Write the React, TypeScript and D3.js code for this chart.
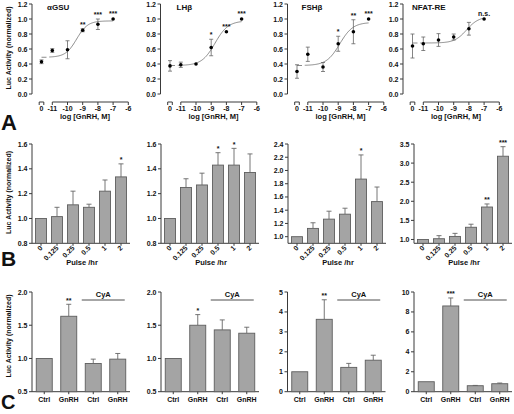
import React from 'react';
import * as d3 from 'd3';

// ---------- Row A: dose-response ----------
const doseTicks = [-11, -10, -9, -8, -7, -6];
const doseLevels = [-11, -10, -9, -8, -7];
const rowATitles = ['αGSU', 'LHβ', 'FSHβ', 'NFAT-RE'];
const rowACtrlMeans = [0.43, 0.375, 0.30, 0.64];
const rowACtrlErrs = [0.025, 0.07, 0.09, 0.16];
const aGSUMeans = [0.58, 0.59, 0.85, 0.93, 1.0];
const aGSUErrs = [0.025, 0.12, 0.02, 0.07, 0.01];
const aGSUSig = ['', '', '**', '***', '***'];
const lhbMeans = [0.39, 0.40, 0.62, 0.83, 1.0];
const lhbErrs = [0.035, 0.01, 0.11, 0.01, 0.01];
const lhbSig = ['', '', '*', '***', '***'];
const fshbMeans = [0.53, 0.36, 0.67, 0.83, 1.0];
const fshbErrs = [0.095, 0.06, 0.10, 0.16, 0.01];
const fshbSig = ['', '', '*', '**', '***'];
const nfatMeans = [0.67, 0.72, 0.76, 0.87, 1.0];
const nfatErrs = [0.09, 0.085, 0.04, 0.085, 0.01];
const nfatSig = ['', '', '', '', 'n.s.'];
// 4-parameter logistic fit: bottom, top, logEC50, hill
const aGSUFit = [0.49, 0.975, -9.4, 1.2];
const lhbFit = [0.38, 0.975, -8.75, 1.0];
const fshbFit = [0.38, 0.955, -8.9, 1.0];
const nfatFit = [0.68, 1.03, -8.15, 1.1];
const rowATicks = [0, 0.2, 0.4, 0.6, 0.8, 1.0, 1.2];

// ---------- Row B: pulse frequency ----------
const pulseLabels = ['0', '0.125', '0.25', '0.5', '1', '2'];
const bAGSUMeans = [1.0, 1.015, 1.11, 1.09, 1.22, 1.335];
const bAGSUErrs = [0, 0.075, 0.11, 0.025, 0.09, 0.105];
const bAGSUSig = ['', '', '', '', '', '*'];
const bLHBMeans = [1.0, 1.25, 1.27, 1.43, 1.43, 1.37];
const bLHBErrs = [0, 0.07, 0.095, 0.10, 0.135, 0.15];
const bLHBSig = ['', '', '', '*', '*', ''];
const bFSHBMeans = [1.0, 1.125, 1.265, 1.34, 1.87, 1.53];
const bFSHBErrs = [0, 0.085, 0.12, 0.09, 0.365, 0.22];
const bFSHBSig = ['', '', '', '', '*', ''];
const bNFATMeans = [1.0, 1.02, 1.08, 1.32, 1.85, 3.18];
const bNFATErrs = [0, 0.08, 0.08, 0.08, 0.08, 0.25];
const bNFATSig = ['', '', '', '', '**', '***'];
const bDomains = [[0.8, 1.6], [0.8, 1.6], [0.9, 2.4], [0.9, 3.5]];
const bTicks = [
  [0.8, 1.0, 1.2, 1.4, 1.6],
  [0.8, 1.0, 1.2, 1.4, 1.6],
  [1.0, 1.2, 1.4, 1.6, 1.8, 2.0, 2.2, 2.4],
  [1.0, 1.5, 2.0, 2.5, 3.0, 3.5],
];

// ---------- Row C: CyA ----------
const cLabels = ['Ctrl', 'GnRH', 'Ctrl', 'GnRH'];
const cAGSUMeans = [1.0, 1.635, 0.925, 0.99];
const cAGSUErrs = [0, 0.18, 0.065, 0.085];
const cAGSUSig = ['', '**', '', ''];
const cLHBMeans = [1.0, 1.5, 1.43, 1.38];
const cLHBErrs = [0, 0.16, 0.15, 0.09];
const cLHBSig = ['', '*', '', ''];
const cFSHBMeans = [1.0, 3.63, 1.22, 1.58];
const cFSHBErrs = [0, 0.98, 0.2, 0.25];
const cFSHBSig = ['', '**', '', ''];
const cNFATMeans = [1.0, 8.6, 0.6, 0.8];
const cNFATErrs = [0, 0.8, 0.03, 0.07];
const cNFATSig = ['', '***', '', ''];
const cDomains = [[0.5, 2.0], [0.5, 2.0], [0, 5], [0, 10]];
const cTicks = [
  [0.5, 1.0, 1.5, 2.0],
  [0.5, 1.0, 1.5, 2.0],
  [0, 1, 2, 3, 4, 5],
  [0, 2, 4, 6, 8, 10],
];
const cyaLabel = 'CyA';

const FONT = "'Liberation Sans', Arial, Helvetica, sans-serif";
const AX = '#3a3a3a';
const BAR_FILL = '#a4a4a4';
const BAR_STROKE = '#5e5e5e';
const ERR = '#666';

function YAxis({ x, scale, ticks, fmt, bottom }: any) {
  const top = scale(ticks[ticks.length - 1]);
  return (
    <g>
      <line x1={x} x2={x} y1={top} y2={bottom} stroke={AX} strokeWidth={1} />
      {ticks.map((t: number, i: number) => (
        <g key={i}>
          <line x1={x - 3} x2={x} y1={scale(t)} y2={scale(t)} stroke={AX} strokeWidth={1} />
          <text x={x - 4.5} y={scale(t) + 2.5} fontSize={7} fontWeight="bold" textAnchor="end">
            {fmt(t)}
          </text>
        </g>
      ))}
    </g>
  );
}

function DosePanel({ ax, ti, titleDx, ctrlMean, ctrlErr, means, errs, sig, fit }: any) {
  const y = d3.scaleLinear().domain([0, 1.2]).range([94, 4]);
  const x = d3.scaleLinear().domain([-11, -6]).range([ax + 20.3, ax + 96.3]);
  const cx = ax + 9.5;
  const f = (v: number) => fit[0] + (fit[1] - fit[0]) / (1 + Math.pow(10, (fit[2] - v) * fit[3]));
  const curve = d3.range(-11.2, -6.995, 0.05).map((v) => [x(v), y(f(v))] as [number, number]);
  const line = d3.line();
  const xAxisY = 102;
  const pts = [{ px: cx, m: ctrlMean, e: ctrlErr, s: '' }].concat(
    doseLevels.map((d, i) => ({ px: x(d), m: means[i], e: errs[i], s: sig[i] }))
  );
  return (
    <g>
      <text x={ax + titleDx} y={10} fontSize={8} fontWeight="bold">{rowATitles[ti]}</text>
      <YAxis x={ax} scale={y} ticks={rowATicks} fmt={d3.format('.1f')} bottom={y(0)} />
      {/* control segment */}
      <line x1={cx - 2.3} x2={cx + 2.3} y1={xAxisY} y2={xAxisY} stroke={AX} />
      <line x1={cx - 2.3} x2={cx - 2.3} y1={xAxisY} y2={xAxisY + 3} stroke={AX} />
      <line x1={cx + 2.3} x2={cx + 2.3} y1={xAxisY} y2={xAxisY + 3} stroke={AX} />
      <text x={cx} y={110.5} fontSize={7} fontWeight="bold" textAnchor="middle">0</text>
      {/* main segment */}
      <line x1={x(-11)} x2={x(-6)} y1={xAxisY} y2={xAxisY} stroke={AX} />
      {doseTicks.map((t) => (
        <g key={t}>
          <line x1={x(t)} x2={x(t)} y1={xAxisY} y2={xAxisY + 3} stroke={AX} />
          <text x={x(t)} y={110.5} fontSize={7} fontWeight="bold" textAnchor="middle">{String(t)}</text>
        </g>
      ))}
      <text x={ax + 53} y={118.5} fontSize={7.5} fontWeight="bold" textAnchor="middle">log [GnRH, M]</text>
      {/* fit curve */}
      <path d={line(curve) || ''} fill="none" stroke="#6e6e6e" strokeWidth={0.8} />
      <line x1={cx} x2={cx + 5} y1={y(fit[0])} y2={y(fit[0])} stroke="#6e6e6e" strokeWidth={0.8} />
      {pts.map((p, i) => (
        <g key={i}>
          {p.e > 0.012 && (
            <g stroke={ERR} strokeWidth={0.8}>
              <line x1={p.px} x2={p.px} y1={y(p.m - p.e)} y2={y(p.m + p.e)} />
              <line x1={p.px - 2} x2={p.px + 2} y1={y(p.m - p.e)} y2={y(p.m - p.e)} />
              <line x1={p.px - 2} x2={p.px + 2} y1={y(p.m + p.e)} y2={y(p.m + p.e)} />
            </g>
          )}
          <circle cx={p.px} cy={y(p.m)} r={1.8} fill="#000" />
          {p.s && (
            <text x={p.px} y={y(p.m + p.e) - 2} fontSize={7} fontWeight="bold" textAnchor="middle">
              {p.s}
            </text>
          )}
        </g>
      ))}
    </g>
  );
}

function BarPanel({ ax, domain, ticks, fmt, cats, means, errs, sig, yTop, yBot, rotate, cya, padIn, padOut, labelY }: any) {
  const y = d3.scaleLinear().domain(domain).range([yBot, yTop]);
  const x = d3.scaleBand().domain(cats.map((_: string, i: number) => String(i))).range([ax, ax + 98]).paddingInner(padIn).paddingOuter(padOut);
  const bw = x.bandwidth();
  return (
    <g>
      <YAxis x={ax} scale={y} ticks={ticks} fmt={fmt} bottom={yBot} />
      <line x1={ax} x2={ax + 98} y1={yBot} y2={yBot} stroke={AX} />
      {cats.map((c: string, i: number) => {
        const bx = x(String(i)) as number;
        const cxm = bx + bw / 2;
        const top = y(means[i]);
        const et = y(means[i] + errs[i]);
        return (
          <g key={i}>
            {errs[i] > 0 && (
              <g stroke={ERR} strokeWidth={0.9}>
                <line x1={cxm} x2={cxm} y1={top} y2={et} />
                <line x1={cxm - 2.5} x2={cxm + 2.5} y1={et} y2={et} />
              </g>
            )}
            <rect x={bx} y={top} width={bw} height={yBot - top} fill={BAR_FILL} stroke={BAR_STROKE} strokeWidth={0.9} />
            <line x1={cxm} x2={cxm} y1={yBot} y2={yBot + 2.5} stroke={AX} />
            {sig[i] && (
              <text x={cxm} y={et - 1.5} fontSize={7} fontWeight="bold" textAnchor="middle">{sig[i]}</text>
            )}
            {rotate ? (
              <text x={cxm + 2} y={labelY} fontSize={7} fontWeight="bold" textAnchor="end" transform={`rotate(-45 ${cxm + 2} ${labelY})`}>
                {c}
              </text>
            ) : (
              <text x={cxm} y={labelY} fontSize={7} fontWeight="bold" textAnchor="middle">{c}</text>
            )}
          </g>
        );
      })}
      {cya && (
        <g>
          <line x1={(x('2') as number) - 3.5} x2={(x('3') as number) + bw - 1} y1={300} y2={300} stroke={AX} strokeWidth={0.9} />
          <text x={((x('2') as number) - 3.5 + (x('3') as number) + bw - 1) / 2} y={296.5} fontSize={7.5} fontWeight="bold" textAnchor="middle">
            {cyaLabel}
          </text>
        </g>
      )}
    </g>
  );
}

export default function App() {
  const rowAX = [32, 160.5, 287.5, 403];
  const titleDx = [15, 16, 14, 9];
  const rowBX = [32, 161, 288, 414];
  const rowCX = [32, 161, 287.5, 414];
  const aData = [
    [aGSUMeans, aGSUErrs, aGSUSig, aGSUFit],
    [lhbMeans, lhbErrs, lhbSig, lhbFit],
    [fshbMeans, fshbErrs, fshbSig, fshbFit],
    [nfatMeans, nfatErrs, nfatSig, nfatFit],
  ];
  const bData = [
    [bAGSUMeans, bAGSUErrs, bAGSUSig],
    [bLHBMeans, bLHBErrs, bLHBSig],
    [bFSHBMeans, bFSHBErrs, bFSHBSig],
    [bNFATMeans, bNFATErrs, bNFATSig],
  ];
  const cData = [
    [cAGSUMeans, cAGSUErrs, cAGSUSig],
    [cLHBMeans, cLHBErrs, cLHBSig],
    [cFSHBMeans, cFSHBErrs, cFSHBSig],
    [cNFATMeans, cNFATErrs, cNFATSig],
  ];
  const f1 = d3.format('.1f');
  const f0 = d3.format('d');
  const yLabel = 'Luc Activity (normalized)';
  return (
    <svg width={514} height={414} style={{ position: 'absolute', left: 0, top: 0, background: '#fff' }} fontFamily={FONT} fill="#111">
      <rect x={0} y={0} width={514} height={414} fill="#fff" />
      {/* Row labels */}
      <text x={1} y={130} fontSize={22} fontWeight="bold">A</text>
      <text x={1} y={266} fontSize={21} fontWeight="bold">B</text>
      <text x={1} y={409} fontSize={20} fontWeight="bold">C</text>
      {[48, 192.5, 336].map((cy, i) => (
        <text key={i} x={0} y={0} fontSize={7} fontWeight="bold" textAnchor="middle" transform={`translate(10.5 ${cy}) rotate(-90)`}>
          {yLabel}
        </text>
      ))}
      {aData.map((d, i) => (
        <DosePanel key={i} ax={rowAX[i]} ti={i} titleDx={titleDx[i]} ctrlMean={rowACtrlMeans[i]} ctrlErr={rowACtrlErrs[i]}
          means={d[0]} errs={d[1]} sig={d[2]} fit={d[3]} />
      ))}
      {bData.map((d, i) => (
        <g key={i}>
          <BarPanel ax={rowBX[i]} domain={bDomains[i]} ticks={bTicks[i]} fmt={f1} cats={pulseLabels}
            means={d[0]} errs={d[1]} sig={d[2]} yTop={144} yBot={243.3} rotate padIn={0.3125} padOut={0.21875} labelY={248.5} />
          <text x={rowBX[i] + 50} y={264.5} fontSize={7.5} fontWeight="bold" textAnchor="middle">Pulse /hr</text>
        </g>
      ))}
      {cData.map((d, i) => (
        <BarPanel key={i} ax={rowCX[i]} domain={cDomains[i]} ticks={cTicks[i]} fmt={i < 2 ? f1 : f0} cats={cLabels}
          means={d[0]} errs={d[1]} sig={d[2]} yTop={292} yBot={391.7} padIn={0.347} padOut={0.1735} cya labelY={401.5} />
      ))}
    </svg>
  );
}
